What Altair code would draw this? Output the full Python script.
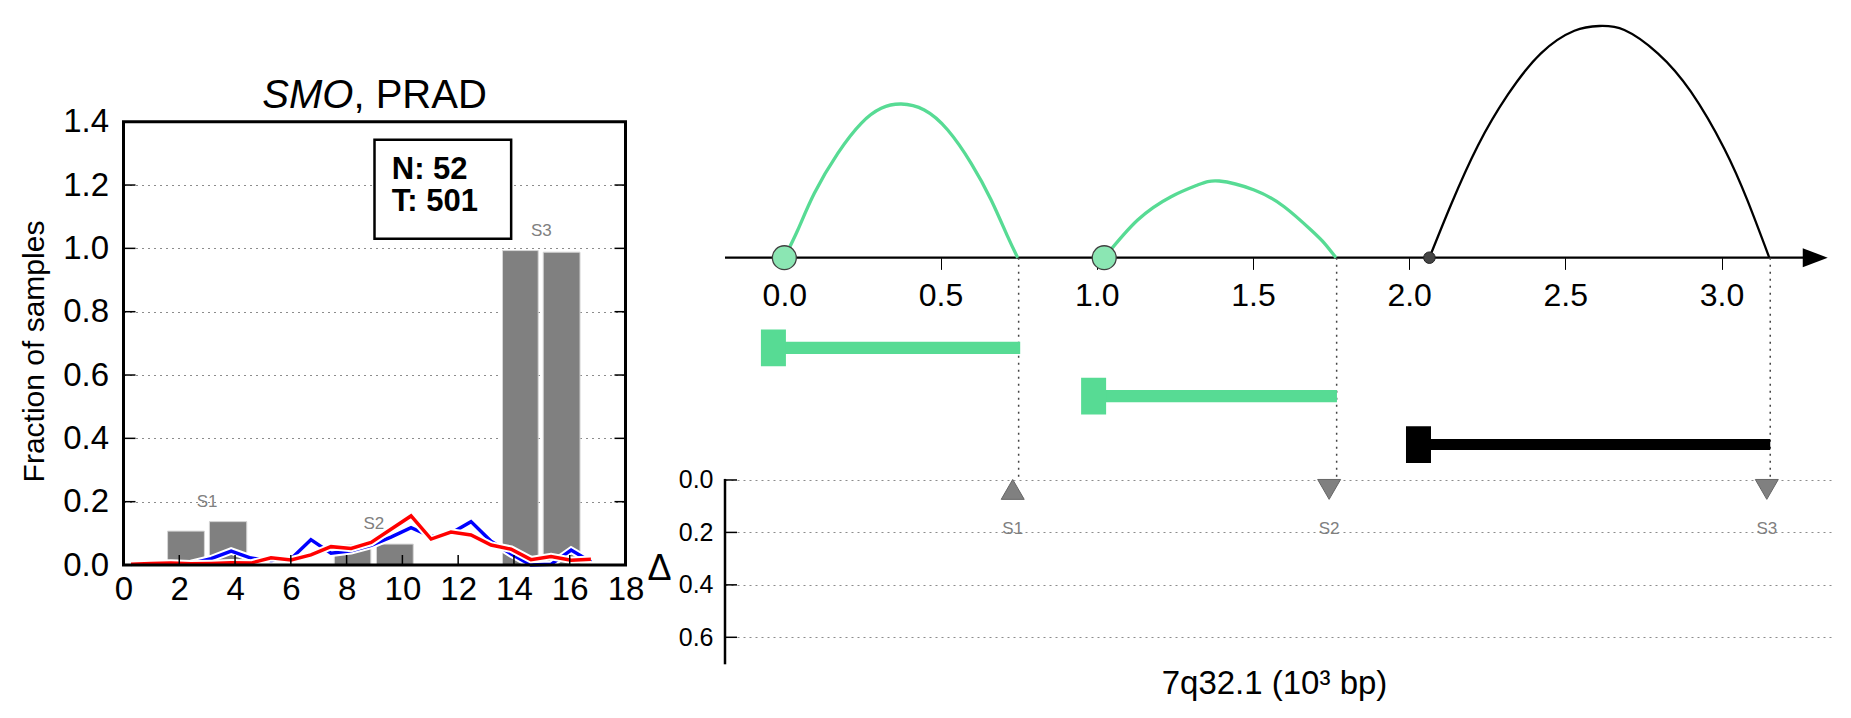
import altair as alt
import pandas as pd

FONT = "Liberation Sans"
GREEN = "#57db94"
GREEN_LIGHT = "#8be6b3"
GRAY = "#808080"

# ---------------- data: left panel (SMO, PRAD) ----------------
LEFT_X_TICKS = [0, 2, 4, 6, 8, 10, 12, 14, 16, 18]
LEFT_Y_TICKS = [0.0, 0.2, 0.4, 0.6, 0.8, 1.0, 1.2, 1.4]

BAR_START = [1.58, 3.08, 7.56, 9.07, 13.59, 15.05]
BAR_END = [2.90, 4.42, 8.87, 10.39, 14.87, 16.37]
BAR_FRACTION = [0.107, 0.137, 0.064, 0.066, 0.993, 0.988]
BAR_SEGMENT = ["S1", "S1", "S2", "S2", "S3", "S3"]

PROFILE_X = [0.27, 0.99, 1.70, 2.42, 3.14, 3.86, 4.57, 5.29, 6.01, 6.72, 7.44, 8.16,
             8.88, 9.59, 10.31, 11.03, 11.74, 12.46, 13.18, 13.90, 14.61, 15.33, 16.05, 16.76]
PROFILE_BLUE = [0.0, 0.0, 0.0, 0.005, 0.02, 0.044, 0.022, 0.014, 0.02, 0.08, 0.037, 0.045,
                0.062, 0.088, 0.118, 0.09, 0.10, 0.137, 0.075, 0.035, 0.0, 0.002, 0.047, 0.01]
PROFILE_RED = [0.002, 0.005, 0.006, 0.004, 0.005, 0.007, 0.006, 0.023, 0.016, 0.032, 0.058, 0.052,
               0.071, 0.113, 0.155, 0.082, 0.104, 0.095, 0.063, 0.05, 0.017, 0.027, 0.015, 0.018]

N_COUNT = 52
T_COUNT = 501

# ---------------- data: right panel (7q32.1 track) ----------------
TRACK_X_TICKS = [0.0, 0.5, 1.0, 1.5, 2.0, 2.5, 3.0]
DELTA_TICKS = [0.0, 0.2, 0.4, 0.6]

ARC1_X = [0.0, 0.043, 0.096, 0.171, 0.246, 0.310, 0.374, 0.448, 0.523, 0.598, 0.662, 0.715, 0.747]
ARC1_H = [0, 27.7, 64.4, 104.4, 134.4, 149.4, 153.7, 147.7, 127.7, 94.4, 57.7, 21, 0]
ARC2_X = [1.024, 1.131, 1.238, 1.323, 1.392, 1.504, 1.60, 1.686, 1.729, 1.766]
ARC2_H = [0, 37.7, 61, 72.7, 76.7, 67.7, 51, 27.7, 14.4, 0]
ARC3_X = [2.065, 2.134, 2.22, 2.316, 2.422, 2.529, 2.609, 2.689, 2.796, 2.902, 3.009, 3.084, 3.153]
ARC3_H = [0, 53, 112, 163, 204.4, 227, 231.7, 227.7, 204.4, 166, 109, 56.5, 0]
ARC_KIND = ["green", "green", "black"]

SEG_START = [-0.035, 0.99, 2.03]
SEG_END = [0.755, 1.769, 3.156]
SEG_ROW = [1, 2, 3]

BREAK_X = [0.75, 1.768, 3.156]
BREAK_LABEL = ["S1", "S2", "S3"]
MARK_X = [0.731, 1.744, 3.145]
MARK_DELTA = [0.036, 0.036, 0.036]
MARK_DIR = ["up", "down", "down"]

ONE = pd.DataFrame({"k": [0]})

# =============== LEFT PANEL ===============
W_L, H_L = 502, 552
L_YMAX = 1.7433
XS_L = alt.Scale(domain=[0, 18], nice=False, zero=False)
YS_L = alt.Scale(domain=[0, L_YMAX], nice=False, zero=False)
X_AX_L = alt.Axis(values=LEFT_X_TICKS, format="d", labelFontSize=33, labelColor="black",
                  labelPadding=8, labelFlush=False, labelOverlap=False, ticks=False,
                  domain=False, grid=False, title=None)
Y_AX_L = alt.Axis(values=LEFT_Y_TICKS, format=".1f", labelFontSize=33, labelColor="black",
                  labelPadding=15, labelFlush=False, labelOverlap=False, ticks=False,
                  domain=False, grid=True, gridColor="#8c8c8c", gridDash=[2, 4], gridWidth=1,
                  title="Fraction of samples", titleFontSize=30, titleFontWeight="normal",
                  titleColor="black", titlePadding=13, titleY=338)


def xl(field):
    return alt.X(field, type="quantitative", scale=XS_L, axis=X_AX_L)


def yl(field):
    return alt.Y(field, type="quantitative", scale=YS_L, axis=Y_AX_L)


def xld(v):
    return alt.XDatum(v, type="quantitative", scale=XS_L, axis=X_AX_L)


def yld(v):
    return alt.YDatum(v, type="quantitative", scale=YS_L, axis=Y_AX_L)


bars_df = pd.DataFrame({"start": BAR_START, "end": BAR_END, "frac": BAR_FRACTION, "seg": BAR_SEGMENT})
lab_df = bars_df.groupby("seg").agg(x0=("start", "min"), x1=("end", "max"), top=("frac", "max")).reset_index()
lab_df["x"] = (lab_df["x0"] + lab_df["x1"]) / 2
lab_df["y"] = lab_df["top"] + 0.062

prof_df = pd.concat([
    pd.DataFrame({"x": PROFILE_X, "v": PROFILE_BLUE, "s": "blue"}),
    pd.DataFrame({"x": PROFILE_X, "v": PROFILE_RED, "s": "red"}),
])

bars = alt.Chart(bars_df).mark_rect(fill=GRAY, stroke="#d6d6d6", strokeWidth=1).encode(
    x=xl("start"), x2="end", y=yl("frac"), y2=alt.datum(0))

seg_labels = alt.Chart(lab_df).mark_text(fontSize=17, color=GRAY, baseline="middle").encode(
    x=xl("x"), y=yl("y"), text="seg:N")


def profile(series, color):
    base = alt.Chart(prof_df).transform_filter(alt.datum.s == series)
    halo = base.mark_line(color="white", strokeWidth=7.5, strokeJoin="miter").encode(
        x=xl("x"), y=yl("v"), order="x:Q")
    line = base.mark_line(color=color, strokeWidth=3.5, strokeJoin="miter").encode(
        x=xl("x"), y=yl("v"), order="x:Q")
    return [halo, line]


frame = alt.Chart(ONE).mark_rect(fill="white", fillOpacity=0, stroke="black", strokeWidth=3).encode(
    x=xld(0), x2=alt.datum(18), y=yld(0), y2=alt.datum(1.4))

ytick_df = pd.DataFrame({"v": LEFT_Y_TICKS[1:-1]})
xtick_df = pd.DataFrame({"v": LEFT_X_TICKS[1:-1]})
yticks_l = alt.Chart(ytick_df).mark_rule(color="black", strokeWidth=1.5).encode(
    y=yl("v"), x=alt.value(0), x2=alt.value(12))
yticks_r = alt.Chart(ytick_df).mark_rule(color="black", strokeWidth=1.5).encode(
    y=yl("v"), x=alt.value(W_L - 11), x2=alt.value(W_L))
xticks = alt.Chart(xtick_df).mark_rule(color="black", strokeWidth=1.5).encode(
    x=xl("v"), y=alt.value(H_L), y2=alt.value(H_L - 10))

title_gene = alt.Chart(ONE).mark_text(text="SMO", fontStyle="italic", fontSize=40,
                                      align="right", baseline="alphabetic").encode(
    x=xld(8.244), y=yld(1.443))
title_rest = alt.Chart(ONE).mark_text(text=", PRAD", fontSize=40,
                                      align="left", baseline="alphabetic").encode(
    x=xld(8.244), y=yld(1.443))

box = alt.Chart(ONE).mark_rect(fill="white", stroke="black", strokeWidth=2.5).encode(
    x=xld(9.0), x2=alt.datum(13.9), y=yld(1.03), y2=alt.datum(1.343))
n_text = alt.Chart(ONE).mark_text(text=f"N: {N_COUNT}", fontSize=31, fontWeight="bold",
                                  align="left", baseline="middle").encode(x=xld(9.62), y=yld(1.248))
t_text = alt.Chart(ONE).mark_text(text=f"T: {T_COUNT}", fontSize=31, fontWeight="bold",
                                  align="left", baseline="middle").encode(x=xld(9.62), y=yld(1.147))

left = alt.layer(
    bars, seg_labels, *profile("blue", "#0000ff"), *profile("red", "#ff0000"),
    frame, yticks_l, yticks_r, xticks, title_gene, title_rest, box, n_text, t_text
).properties(width=W_L, height=H_L)

# =============== RIGHT PANEL ===============
W_R, H_R = 1107.4, 651.3
XS_R = alt.Scale(domain=[-0.19, 3.355], nice=False, zero=False)
X_AX_R = alt.Axis(values=TRACK_X_TICKS, format=".1f", labelFontSize=32, labelColor="black",
                  labelPadding=11, labelFlush=False, labelOverlap=False, domain=False,
                  ticks=True, tickSize=11.7, tickColor="black", tickWidth=1, grid=False,
                  offset=-406.6, title="7q32.1 (10³ bp)", titleFontSize=33,
                  titleFontWeight="normal", titleColor="black", titleY=425.3, titleX=549,
                  titleBaseline="middle", titleAlign="center")
YS_T = alt.Scale(domain=[-406.6, 244.7], nice=False, zero=False)   # height above genomic axis
YS_S = alt.Scale(domain=[-5.925, 7.545], reverse=True, nice=False, zero=False)  # segment rows
YS_D = alt.Scale(domain=[-1.781, 0.703], reverse=True, nice=False, zero=False)  # delta
Y_AX_D = alt.Axis(orient="left", values=DELTA_TICKS, format=".1f", labelFontSize=25,
                  labelColor="black", labelPadding=12, labelFlush=False, domain=False,
                  ticks=False, grid=True, gridDash=[2, 4], gridColor="#8c8c8c", gridWidth=1,
                  title="Δ", titleFontSize=36, titleFontWeight="normal", titleColor="black",
                  titleAngle=0, titleX=-66, titleY=555, titleAlign="center",
                  titleBaseline="middle")


def xr(field):
    return alt.X(field, type="quantitative", scale=XS_R, axis=X_AX_R)


def xrd(v):
    return alt.XDatum(v, type="quantitative", scale=XS_R, axis=X_AX_R)


def yt(field):
    return alt.Y(field, type="quantitative", scale=YS_T, axis=None)


def ytd(v):
    return alt.YDatum(v, type="quantitative", scale=YS_T, axis=None)


arcs_df = pd.concat([
    pd.DataFrame({"x": ARC1_X, "h": ARC1_H, "arc": "a1", "kind": ARC_KIND[0]}),
    pd.DataFrame({"x": ARC2_X, "h": ARC2_H, "arc": "a2", "kind": ARC_KIND[1]}),
    pd.DataFrame({"x": ARC3_X, "h": ARC3_H, "arc": "a3", "kind": ARC_KIND[2]}),
])
starts_df = pd.DataFrame({"x": [ARC1_X[0], ARC2_X[0], ARC3_X[0]], "kind": ARC_KIND, "h": [0, 0, 0]})
seg_df = pd.DataFrame({"start": SEG_START, "end": SEG_END, "row": SEG_ROW, "kind": ARC_KIND})
brk_df = pd.DataFrame({"x": BREAK_X, "h": [0, 0, 0]})
mark_df = pd.DataFrame({"x": MARK_X, "d": MARK_DELTA, "dir": MARK_DIR, "lab": BREAK_LABEL})
dtick_df = pd.DataFrame({"v": DELTA_TICKS})

axis_line = alt.Chart(ONE).mark_rule(color="black", strokeWidth=2.2).encode(
    x=xrd(-0.19), x2=alt.datum(3.27), y=ytd(0))
arrow = alt.Chart(ONE).mark_point(shape="M-1,-0.76L1,0L-1,0.76Z", size=625, filled=True,
                                  fill="black", opacity=1).encode(x=xrd(3.30), y=ytd(0))
arcs_green = alt.Chart(arcs_df).transform_filter(alt.datum.kind == "green").mark_line(
    color=GREEN, strokeWidth=3.3, interpolate="natural").encode(
    x=xr("x"), y=yt("h"), detail="arc:N", order="x:Q")
arcs_black = alt.Chart(arcs_df).transform_filter(alt.datum.kind == "black").mark_line(
    color="black", strokeWidth=2.3, interpolate="natural").encode(
    x=xr("x"), y=yt("h"), detail="arc:N", order="x:Q")
breaks = alt.Chart(brk_df).mark_rule(color="#444444", strokeWidth=1.5, strokeDash=[2, 5]).encode(
    x=xr("x"), y=yt("h"), y2=alt.datum(-222.3))
circles = alt.Chart(starts_df).transform_filter(alt.datum.kind == "green").mark_point(
    shape="circle", filled=True, size=573, fill=GREEN_LIGHT, stroke="#404040", strokeWidth=1.3,
    opacity=1).encode(x=xr("x"), y=yt("h"))
dots = alt.Chart(starts_df).transform_filter(alt.datum.kind == "black").mark_point(
    shape="circle", filled=True, size=133, fill="#444444", stroke="#222222", strokeWidth=1,
    opacity=1).encode(x=xr("x"), y=yt("h"))

track = alt.layer(axis_line, arcs_green, arcs_black, breaks, circles, dots, arrow)


def ys(field):
    return alt.Y(field, type="quantitative", scale=YS_S, axis=None)


seg_green = alt.Chart(seg_df).transform_filter(alt.datum.kind == "green")
seg_black = alt.Chart(seg_df).transform_filter(alt.datum.kind == "black")
segments = alt.layer(
    seg_green.mark_rule(color=GREEN, strokeWidth=12.3).encode(x=xr("start"), x2="end", y=ys("row")),
    seg_green.mark_tick(color=GREEN, orient="vertical", thickness=25, size=36.7, opacity=1).encode(
        x=xr("start"), y=ys("row")),
    seg_black.mark_rule(color="black", strokeWidth=11).encode(x=xr("start"), x2="end", y=ys("row")),
    seg_black.mark_tick(color="black", orient="vertical", thickness=25, size=36.7, opacity=1).encode(
        x=xr("start"), y=ys("row")),
)


def yd(field):
    return alt.Y(field, type="quantitative", scale=YS_D, axis=Y_AX_D)


def ydd(v):
    return alt.YDatum(v, type="quantitative", scale=YS_D, axis=Y_AX_D)


delta_line = alt.Chart(ONE).mark_rule(color="black", strokeWidth=2.5).encode(
    x=alt.value(0), y=ydd(-0.004), y2=alt.datum(0.703))
delta_ticks = alt.Chart(dtick_df).mark_rule(color="black", strokeWidth=1.5).encode(
    y=yd("v"), x=alt.value(0), x2=alt.value(12))
triangles = alt.Chart(mark_df).mark_point(filled=True, size=529, fill=GRAY, stroke="#666666",
                                          strokeWidth=1, opacity=1).encode(
    x=xr("x"), y=yd("d"),
    shape=alt.Shape("dir:N", scale=alt.Scale(domain=["up", "down"],
                                             range=["triangle-up", "triangle-down"]), legend=None))
tri_labels = alt.Chart(mark_df).mark_text(fontSize=17, color=GRAY, dy=39.5, baseline="middle").encode(
    x=xr("x"), y=yd("d"), text="lab:N")

delta = alt.layer(delta_line, delta_ticks, triangles, tri_labels)

right = alt.layer(track, segments, delta).resolve_scale(y="independent").properties(
    width=W_R, height=H_R)

chart = alt.hconcat(left, right, spacing=99.5, bounds="flush").properties(
    padding={"left": 11.5, "top": 5, "right": 3, "bottom": 2}
).configure(font=FONT).configure_view(stroke=None)

chart.save("out.html", embed_options={"renderer": "svg", "actions": False})
